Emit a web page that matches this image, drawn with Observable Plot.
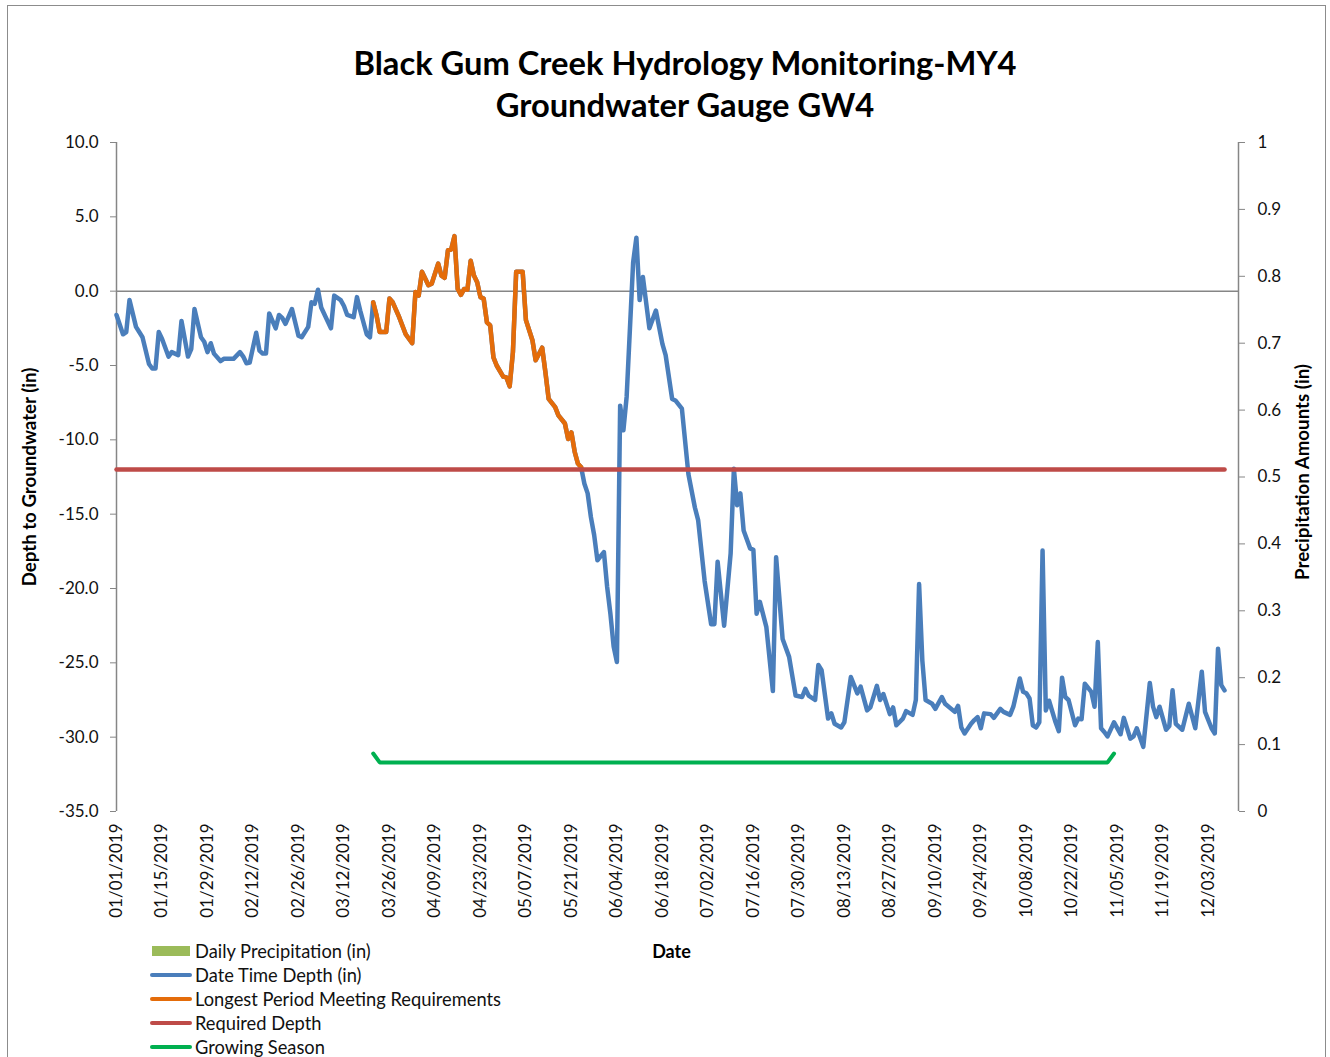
<!DOCTYPE html>
<html><head><meta charset="utf-8">
<script src="https://cdn.jsdelivr.net/npm/d3@7"></script>
<script src="https://cdn.jsdelivr.net/npm/@observablehq/plot@0.6"></script>
<style>
html,body{margin:0;padding:0;overflow:hidden;background:#fff;width:1330px;height:1057px;}
body{font-family:Lato,"Open Sans",sans-serif;color:#111;position:relative;}
#frame{position:absolute;left:7px;top:5px;width:1319px;height:1070px;border:1px solid #8c8c8c;box-sizing:border-box;}
#title{position:absolute;left:20px;top:42px;width:1330px;text-align:center;font-weight:bold;font-size:32.7px;line-height:42px;color:#000;}
#chart{position:absolute;left:0;top:130px;}
#legend{position:absolute;left:150px;top:939px;font-size:18.3px;color:#111;}
.row{height:24px;display:flex;align-items:center;}
.sw{width:42px;height:24px;position:relative;margin-right:3px;}
.sw .ln{position:absolute;left:0;right:0;top:10px;height:4px;border-radius:2px;}
.sw .bx{position:absolute;left:2px;right:2px;top:7px;height:10px;}
</style></head>
<body>
<div id="frame"></div>
<div id="title">Black Gum Creek Hydrology Monitoring-MY4<br>Groundwater Gauge GW4</div>
<div id="chart"></div>
<div id="legend"></div>
<script>
// Days since 01/01/2019 and depth to groundwater (in)
const depthReadings = [
[0,-1.6],[2,-2.9],[3,-2.75],[4,-0.6],[6,-2.4],[7,-2.75],[8,-3.1],[10,-4.9],[11,-5.2],[12,-5.2],[13,-2.75],[14,-3.2],[16,-4.4],[17,-4.1],[19,-4.3],[20,-2.0],[22,-4.4],[23,-3.9],[24,-1.2],[26,-3.1],[27,-3.4],[28,-4.1],[29,-3.5],[30,-4.2],[32,-4.7],[33,-4.55],[36,-4.55],[38,-4.1],[39,-4.4],[40,-4.85],[41,-4.8],[43,-2.8],[44,-4.0],[45,-4.2],[46,-4.2],[47,-1.5],[49,-2.5],[50,-1.6],[51,-1.8],[52,-2.2],[54,-1.2],[56,-3.0],[57,-3.1],[59,-2.4],[60,-0.75],[61,-0.85],[62,0.1],[63,-1.1],[66,-2.5],[67,-0.3],[69,-0.6],[70,-1.0],[71,-1.6],[73,-1.75],[74,-0.4],[75,-1.3],[77,-2.9],[78,-3.1],
[79,-0.75],[80,-1.6],[81,-2.75],[83,-2.75],[84,-0.5],[85,-0.75],[87,-1.75],[89,-2.9],[91,-3.5],[92,-0.05],[93,-0.3],[94,1.3],[96,0.4],[97,0.5],[99,1.85],[100,1.05],[101,0.9],[102,2.75],[103,2.8],[104,3.7],[105,0.15],[106,-0.25],[107,0.15],[108,0.1],[109,2.05],[110,1.05],[111,0.6],[112,-0.4],[113,-0.5],[114,-2.1],[115,-2.3],[116,-4.45],[117,-5.0],[119,-5.75],[120,-5.8],[121,-6.4],[122,-4.1],[123,1.3],[125,1.3],[126,-1.95],[128,-3.3],[129,-4.65],[131,-3.8],[132,-5.45],[133,-7.25],[135,-7.8],[136,-8.35],[138,-8.9],[139,-9.95],[140,-9.5],[141,-10.8],[142,-11.6],[143,-11.85],
[144,-12.95],[145,-13.6],[146,-15.2],[147,-16.4],[148,-18.1],[150,-17.55],[151,-19.9],[152,-21.7],[153,-23.9],[154,-24.95],[155,-7.7],[156,-9.35],[157,-7.1],[159,1.95],[160,3.6],[161,-0.6],[162,0.95],[164,-2.5],[166,-1.3],[168,-3.55],[169,-4.3],[171,-7.25],[172,-7.35],[174,-7.9],[176,-12.3],[178,-14.55],[179,-15.4],[181,-19.5],[183,-22.4],[184,-22.4],[185,-18.2],[187,-22.5],[189,-17.65],[190,-11.95],[191,-14.4],[192,-13.6],[193,-16.1],[195,-17.3],[196,-17.4],[197,-21.7],[198,-20.9],[200,-22.6],[202,-26.9],[203,-17.9],[205,-23.4],[207,-24.6],[209,-27.2],[211,-27.3],[212,-26.75],[213,-27.2],[215,-27.5],[216,-25.15],[217,-25.5],[219,-28.75],[220,-28.4],[221,-29.1],[223,-29.35],[224,-29.0],[226,-25.95],[228,-27.05],[229,-26.6],[231,-28.2],[232,-28.0],[234,-26.55],[235,-27.5],[236,-27.1],[238,-28.45],[239,-28.0],[240,-29.2],[242,-28.75],[243,-28.25],[245,-28.5],[246,-27.5],[247,-19.7],[248,-24.85],[249,-27.5],[251,-27.75],[252,-28.1],[254,-27.3],[255,-27.75],[258,-28.3],[259,-27.9],[260,-29.35],[261,-29.75],[263,-29.1],[264,-28.85],[265,-28.65],[266,-29.4],[267,-28.4],[269,-28.45],[270,-28.7],[272,-28.1],[273,-28.3],[275,-28.5],[276,-27.95],[278,-26.05],[279,-26.95],[280,-27.05],[281,-27.4],[282,-29.2],[283,-29.35],[284,-29.0],[285,-17.45],[286,-28.2],[287,-27.55],[289,-29.0],[290,-29.6],[291,-26.0],[292,-27.3],[293,-27.5],[295,-29.2],[296,-28.75],[297,-28.8],[298,-26.4],[300,-26.95],[301,-27.95],[302,-23.6],[303,-29.4],[304,-29.65],[305,-29.95],[307,-29.0],[309,-29.8],[310,-28.7],[312,-30.1],[313,-29.95],[314,-29.4],[316,-30.65],[318,-26.35],[319,-27.95],[320,-28.65],[321,-27.95],[323,-29.5],[324,-29.25],[325,-26.85],[326,-29.1],[328,-29.5],[330,-27.75],[332,-29.4],[334,-25.6],[335,-28.3],[337,-29.4],[338,-29.75],[339,-24.05],[340,-26.5],[341,-26.85]
];
// Longest period meeting requirements (days since 01/01/2019)
const longestPeriod = [79, 143];
// Required depth (in)
const requiredDepth = -12;
const requiredDepthDays = [0, 341];
// Growing season marker: [day, value]
const growingSeason = [[79,-31.1],[81,-31.7],[305,-31.7],[307,-31.1]];
// Axis ticks
const xTickLabels = ["01/01/2019","01/15/2019","01/29/2019","02/12/2019","02/26/2019","03/12/2019","03/26/2019","04/09/2019","04/23/2019","05/07/2019","05/21/2019","06/04/2019","06/18/2019","07/02/2019","07/16/2019","07/30/2019","08/13/2019","08/27/2019","09/10/2019","09/24/2019","10/08/2019","10/22/2019","11/05/2019","11/19/2019","12/03/2019"];
const xDomainDays = [0, 345.3];
const yTicks = [10,5,0,-5,-10,-15,-20,-25,-30,-35];
const precipTicks = [1,0.9,0.8,0.7,0.6,0.5,0.4,0.3,0.2,0.1,0];
const legendItems = [
  {label:"Daily Precipitation (in)", color:"#9BBB59", type:"box"},
  {label:"Date Time Depth (in)", color:"#4A7EBB", type:"line"},
  {label:"Longest Period Meeting Requirements", color:"#E46C0A", type:"line"},
  {label:"Required Depth", color:"#BE4B48", type:"line"},
  {label:"Growing Season", color:"#00B050", type:"line"}
];

const t0 = Date.UTC(2019,0,1);
const toDate = d => new Date(t0 + d*864e5);
const parse = d3.utcParse("%m/%d/%Y");
const depth = depthReadings.map(([d,v]) => ({date: toDate(d), day: d, value: v}));
const longest = depth.filter(p => p.day >= longestPeriod[0] && p.day <= longestPeriod[1]);
const required = requiredDepthDays.map(d => ({date: toDate(d), value: requiredDepth}));
const season = growingSeason.map(([d,v]) => ({date: toDate(d), value: v}));
const yMin = -35, yMax = 10;
const precipToY = p => yMin + p*(yMax - yMin);

const chart = Plot.plot({
  width: 1330, height: 840,
  marginTop: 12, marginBottom: 159, marginLeft: 116, marginRight: 92,
  style: {fontFamily: "Lato, sans-serif", fontSize: "17px", color: "#111", background: "transparent"},
  x: {type: "utc", domain: xDomainDays.map(toDate)},
  y: {domain: [yMin, yMax]},
  marks: [
    Plot.ruleY([0], {stroke: "#868686", strokeWidth: 1.5}),
    Plot.ruleX([toDate(xDomainDays[0])], {stroke: "#868686", strokeWidth: 1.5}),
    Plot.ruleX([toDate(xDomainDays[1])], {stroke: "#868686", strokeWidth: 1.5}),
    Plot.axisY({anchor: "left", ticks: yTicks, tickFormat: d => d.toFixed(1), tickSize: 6, tickPadding: 12, stroke: "#868686", label: null}),
    Plot.axisY({anchor: "right", ticks: precipTicks.map(precipToY), tickFormat: (d, i) => String(precipTicks[i]), tickSize: 6, tickPadding: 13, stroke: "#868686", label: null}),
    Plot.axisX({ticks: xTickLabels.map(parse), tickFormat: d3.utcFormat("%m/%d/%Y"), tickRotate: -90, tickSize: 0, tickPadding: 12, label: null}),
    Plot.line(depth, {x: "date", y: "value", stroke: "#4A7EBB", strokeWidth: 4.5, strokeLinejoin: "round", strokeLinecap: "round"}),
    Plot.line(longest, {x: "date", y: "value", stroke: "#E46C0A", strokeWidth: 4.5, strokeLinejoin: "round", strokeLinecap: "round"}),
    Plot.line(required, {x: "date", y: "value", stroke: "#BE4B48", strokeWidth: 4.5}),
    Plot.line(season, {x: "date", y: "value", stroke: "#00B050", strokeWidth: 4, strokeLinejoin: "round", strokeLinecap: "round"}),
    Plot.text(["Depth to Groundwater (in)"], {frameAnchor: "left", dx: -86, rotate: -90, textAnchor: "middle", fontWeight: "bold", fontSize: 18.7, fill: "#000"}),
    Plot.text(["Precipitation Amounts (in)"], {frameAnchor: "right", dx: 65, dy: -5, rotate: -90, textAnchor: "middle", fontWeight: "bold", fontSize: 18.7, fill: "#000"}),
    Plot.text(["Date"], {frameAnchor: "bottom", dx: -6, dy: 146, textAnchor: "middle", fontWeight: "bold", fontSize: 18, fill: "#000"})
  ]
});
document.getElementById("chart").appendChild(chart);

const lg = d3.select("#legend");
legendItems.forEach(it => {
  const row = lg.append("div").attr("class", "row");
  const sw = row.append("div").attr("class", "sw");
  sw.append("div").attr("class", it.type === "box" ? "bx" : "ln").style("background", it.color);
  row.append("span").text(it.label);
});
</script>
</body></html>
